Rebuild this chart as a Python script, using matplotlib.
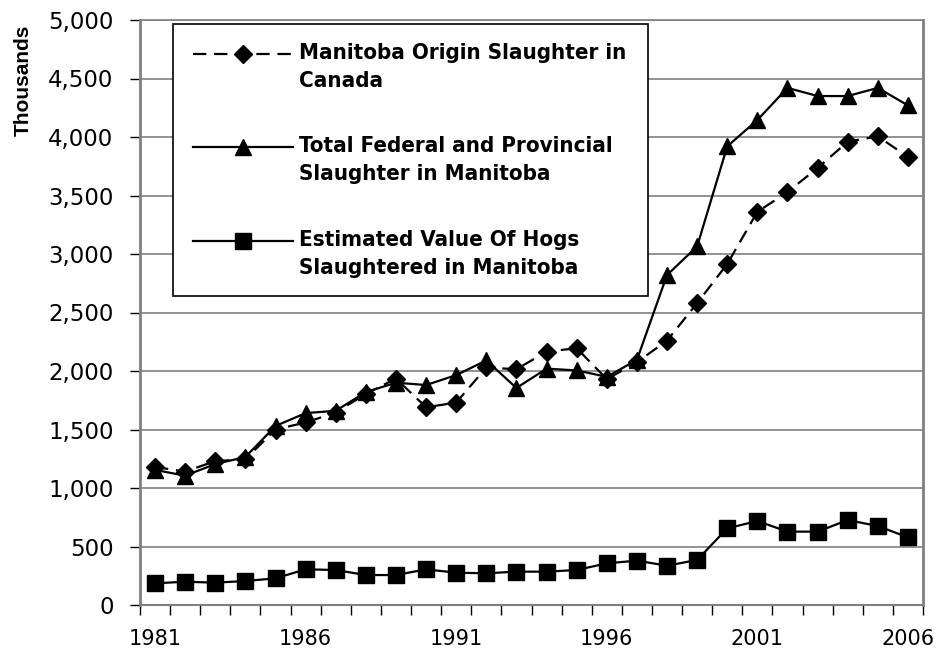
import matplotlib
matplotlib.use("Agg")
import matplotlib.pyplot as plt
from matplotlib.lines import Line2D
from matplotlib.patches import Rectangle
import numpy as np

years = list(range(1981, 2007))
origin_canada = [1180, 1140, 1230, 1245, 1500, 1560, 1645, 1805, 1935, 1690, 1730,
                 2030, 2015, 2165, 2195, 1930, 2075, 2260, 2580, 2915, 3360, 3530,
                 3735, 3960, 4005, 3830]
total_manitoba = [1155, 1105, 1205, 1265, 1530, 1640, 1660, 1820, 1900, 1880, 1965,
                  2090, 1855, 2020, 2005, 1950, 2095, 2820, 3065, 3920, 4145, 4420,
                  4350, 4350, 4420, 4270]
value_hogs = [185, 199, 191, 205, 228, 305, 299, 256, 256, 305, 276, 271, 285, 285,
              299, 356, 379, 336, 385, 655, 718, 627, 627, 726, 675, 578]
labels = ["Manitoba Origin Slaughter in\nCanada",
          "Total Federal and Provincial\nSlaughter in Manitoba",
          "Estimated Value Of Hogs\nSlaughtered in Manitoba"]
ylabel = "Thousands"

W, H = 938, 654
fig = plt.figure(figsize=(W / 100, H / 100), dpi=100)
ax = fig.add_axes([140 / W, (H - 605) / H, (923 - 140) / W, (605 - 20) / H])

x = np.arange(len(years))
lw = 1.6
dash = (0, (6, 3.5))
ax.plot(x, origin_canada, color="black", lw=lw, ls=dash, marker="D",
        markersize=9.5, zorder=3)
ax.plot(x, total_manitoba, color="black", lw=lw, ls="-", marker="^",
        markersize=11, zorder=3)
ax.plot(x, value_hogs, color="black", lw=lw, ls="-", marker="s",
        markersize=11.5, zorder=3)

ax.set_xlim(-0.5, len(years) - 0.5)
ax.set_ylim(0, 5000)
ax.set_yticks(np.arange(0, 5001, 500))
ax.set_yticklabels([f"{v:,}" for v in range(0, 5001, 500)], fontsize=16.5,
                   family="DejaVu Sans")
ax.yaxis.grid(True, color="#808080", lw=1.2)
ax.set_axisbelow(True)

ax.set_xticks(np.arange(-0.5, len(years), 1.0))
ax.set_xticklabels([])
ax.set_xticks([i for i, y in enumerate(years) if (y - 1981) % 5 == 0], minor=True)
ax.set_xticklabels([str(y) for y in years if (y - 1981) % 5 == 0], minor=True,
                   fontsize=15, family="DejaVu Sans")
ax.tick_params(axis="x", which="minor", length=0, pad=17)
ax.tick_params(axis="x", which="major", length=7, width=1, color="black")
ax.tick_params(axis="y", length=7, width=1, color="black", pad=12)

for s in ["left", "right"]:
    ax.spines[s].set_color("#808080")
    ax.spines[s].set_linewidth(2)
ax.spines["top"].set_color("#808080")
ax.spines["top"].set_linewidth(1.2)
ax.spines["bottom"].set_color("#808080")
ax.spines["bottom"].set_linewidth(1.5)

fig.text(23 / W, 1 - 80 / H, ylabel, rotation=90, ha="center", va="center",
         fontsize=15, fontweight="bold", family="Liberation Sans")

# legend (drawn manually to align handles with the first text line)
def fx(px):
    return px / W

def fy(py):
    return 1 - py / H

fig.patches.append(Rectangle((fx(173), fy(296)), (648 - 173) / W, (296 - 24) / H,
                             transform=fig.transFigure, facecolor="white",
                             edgecolor="black", lw=1.2, zorder=5))
styles = [dict(ls=dash, marker="D", markersize=9.5),
          dict(ls="-", marker="^", markersize=11),
          dict(ls="-", marker="s", markersize=11.5)]
rows = [54, 147, 241]
for lab, st, yy in zip(labels, styles, rows):
    fig.lines.append(Line2D([fx(193), fx(293)], [fy(yy), fy(yy)],
                            transform=fig.transFigure, color="black", lw=lw,
                            ls=st["ls"], zorder=6))
    fig.lines.append(Line2D([fx(243)], [fy(yy)], transform=fig.transFigure,
                            color="black", marker=st["marker"],
                            markersize=st["markersize"], ls="none", zorder=7))
    fig.text(fx(299), fy(yy - 11), lab, ha="left", va="top", fontsize=16,
             fontweight="bold", family="DejaVu Sans", fontstretch="condensed",
             linespacing=1.5, zorder=8)

fig.savefig("out.png", dpi=100)
